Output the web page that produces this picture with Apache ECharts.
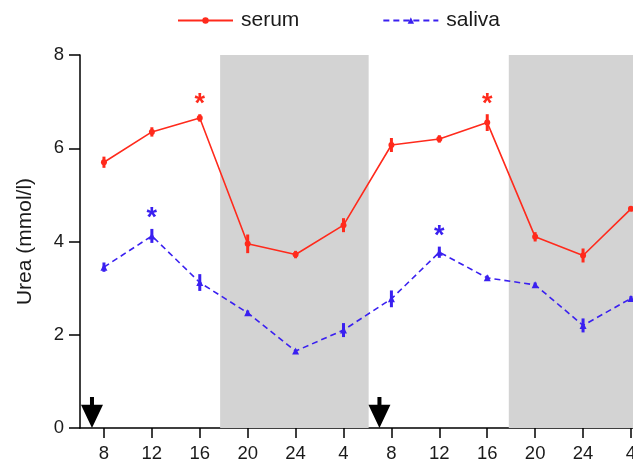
<!DOCTYPE html>
<html>
<head>
<meta charset="utf-8">
<script src="https://cdn.jsdelivr.net/npm/echarts@6/dist/echarts.min.js"></script>
<style>
  html, body { margin: 0; padding: 0; background: #fff; }
  #chart { width: 633px; height: 464px; }
</style>
</head>
<body>
<div id="chart"></div>
<script>
// sampling times, hours from start of day 1
const hours = [8, 12, 16, 20, 24, 28, 32, 36, 40, 44, 48, 52]
const xTickLabels = ['8', '12', '16', '20', '24', '4', '8', '12', '16', '20', '24', '4']

const serum = [5.7, 6.35, 6.65, 3.95, 3.72, 4.35, 6.07, 6.2, 6.55, 4.1, 3.7, 4.7]
const serumErr = [0.12, 0.1, 0.08, 0.2, 0.08, 0.15, 0.15, 0.08, 0.18, 0.1, 0.15, 0]
const saliva = [3.45, 4.12, 3.12, 2.47, 1.65, 2.1, 2.77, 3.77, 3.22, 3.07, 2.2, 2.78]
const salivaErr = [0.1, 0.15, 0.18, 0.05, 0.03, 0.15, 0.18, 0.12, 0.05, 0.05, 0.15, 0.05]

// significant points (index into arrays)
const serumStars = [2, 8]
const salivaStars = [1, 7]

// dark periods (lights off) and arrow times
const darkPeriods = [[17.7, 30.1], [41.8, 54]]
const arrowHours = [7, 31]

const RED = '#ff2a1c'
const BLUE = '#3a20f0'
const FONT = 'Liberation Sans'

const chart = echarts.init(document.getElementById('chart'))

const errSeries = (vals, errs, color) => ({
  type: 'custom',
  data: vals.map((v, i) => [hours[i], v - errs[i], v + errs[i]]),
  z: 3,
  silent: true,
  renderItem: (params, api) => {
    const a = api.coord([api.value(0), api.value(1)])
    const b = api.coord([api.value(0), api.value(2)])
    return {
      type: 'line',
      shape: { x1: a[0], y1: a[1], x2: b[0], y2: b[1] },
      style: { stroke: color, lineWidth: 3 }
    }
  }
})

// asterisks sit just above the top of the error bar
const starSeries = (vals, errs, stars, color) => ({
  type: 'scatter',
  data: stars.map(i => [hours[i], vals[i] + errs[i]]),
  symbolSize: 0,
  silent: true,
  z: 6,
  itemStyle: { color, opacity: 1 },
  label: {
    show: true, formatter: '*', position: 'inside', offset: [0, -10],
    color, opacity: 1, fontSize: 27, fontWeight: 'bold', fontFamily: FONT
  }
})

const option = {
  animation: false,
  textStyle: { fontFamily: FONT },
  legend: {
    top: 5,
    left: 172,
    itemWidth: 55,
    itemHeight: 8,
    itemGap: 83,
    textStyle: { fontSize: 21, color: '#1a1a1a', fontFamily: FONT, padding: [0, 0, 0, 3] },
    data: ['serum', 'saliva']
  },
  grid: { left: 80, right: 0, top: 55, bottom: 36, outerBoundsMode: 'none', containLabel: false },
  xAxis: {
    type: 'value',
    min: 6,
    max: 52.17,
    axisLine: { lineStyle: { color: '#000', width: 1.5 } },
    axisTick: { customValues: hours, length: 10, lineStyle: { color: '#000', width: 1.5 } },
    axisLabel: {
      customValues: hours,
      margin: 16,
      fontSize: 18.5,
      color: '#1a1a1a',
      hideOverlap: false,
      formatter: v => xTickLabels[hours.indexOf(v)]
    },
    splitLine: { show: false }
  },
  yAxis: {
    type: 'value',
    min: 0,
    max: 8,
    interval: 2,
    name: 'Urea (mmol/l)',
    nameLocation: 'middle',
    nameGap: 44,
    nameTextStyle: { fontSize: 21, color: '#1a1a1a' },
    axisLine: { show: true, lineStyle: { color: '#000', width: 1.5 } },
    axisTick: { length: 11, lineStyle: { color: '#000', width: 1.5 } },
    axisLabel: { margin: 16, fontSize: 18.5, color: '#1a1a1a' },
    splitLine: { show: false }
  },
  series: [
    {
      name: 'serum',
      type: 'line',
      data: hours.map((h, i) => [h, serum[i]]),
      symbol: 'circle',
      symbolSize: 6,
      z: 4,
      lineStyle: { color: RED, width: 1.6 },
      itemStyle: { color: RED },
      markArea: {
        silent: true,
        itemStyle: { color: '#d3d3d3' },
        data: darkPeriods.map(d => [{ xAxis: d[0] }, { xAxis: d[1] }])
      }
    },
    {
      name: 'saliva',
      type: 'line',
      data: hours.map((h, i) => [h, saliva[i]]),
      symbol: 'triangle',
      symbolSize: 7,
      z: 4,
      lineStyle: { color: BLUE, width: 1.6, type: [6, 4] },
      itemStyle: { color: BLUE }
    },
    errSeries(serum, serumErr, RED),
    errSeries(saliva, salivaErr, BLUE),
    starSeries(serum, serumErr, serumStars, RED),
    starSeries(saliva, salivaErr, salivaStars, BLUE),
    {
      type: 'scatter',
      data: arrowHours.map(h => [h, 0]),
      symbol: 'path://M9,0 h4 v8 h9 L11,32 L0,8 h9 Z',
      symbolSize: [22, 31],
      symbolOffset: [0, '-50%'],
      itemStyle: { color: '#000', opacity: 1 },
      clip: false,
      silent: true,
      z: 5
    }
  ]
}

chart.setOption(option)
</script>
</body>
</html>
